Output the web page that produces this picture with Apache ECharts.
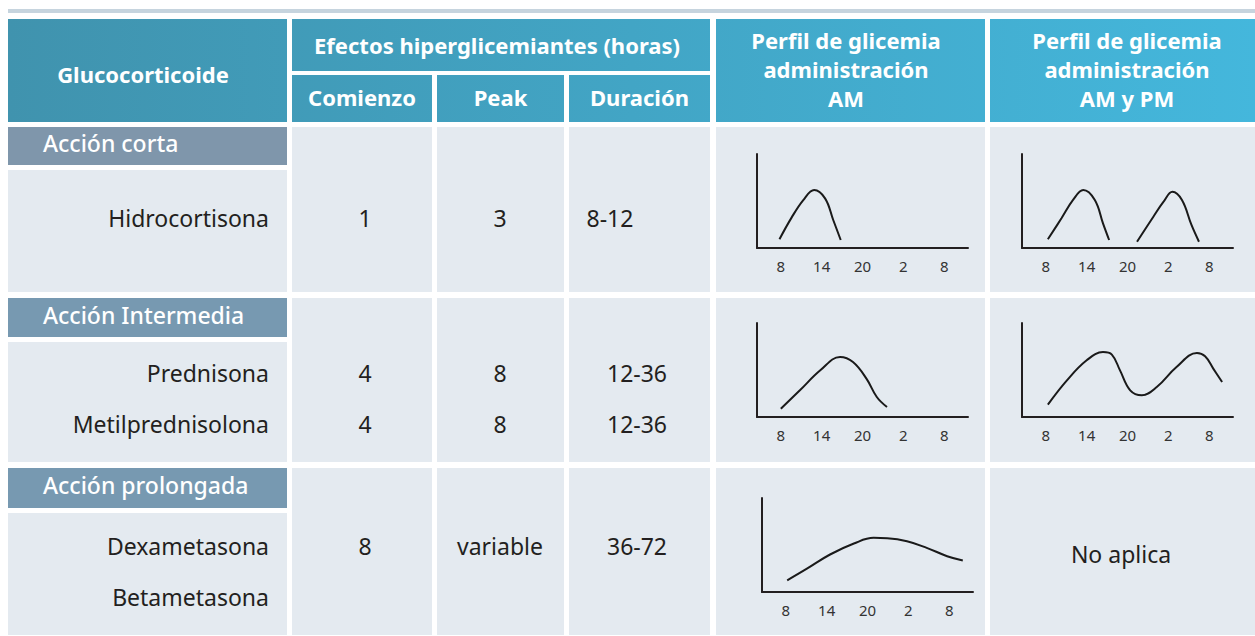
<!DOCTYPE html>
<html><head><meta charset="utf-8">
<script src="https://cdn.jsdelivr.net/npm/echarts@6/dist/echarts.min.js"></script>
<style>html,body{margin:0;padding:0;background:#fff}#c{width:1255px;height:636px}</style>
</head><body><div id="c"></div>
<script>
// ---- data ----
const tickHours = [8, 14, 20, 26, 32];
const tickLabels = ['8', '14', '20', '2', '8'];
const headerMain = 'Glucocorticoide';
const headerGroup = 'Efectos hiperglicemiantes (horas)';
const headerSub = ['Comienzo', 'Peak', 'Duración'];
const headerAM = 'Perfil de glicemia\nadministración\nAM';
const headerAMPM = 'Perfil de glicemia\nadministración\nAM y PM';
const groups = ['Acción corta', 'Acción Intermedia', 'Acción prolongada'];
const drugs = [['Hidrocortisona'], ['Prednisona', 'Metilprednisolona'], ['Dexametasona', 'Betametasona']];
const comienzo = [['1'], ['4', '4'], ['8']];
const peak = [['3'], ['8', '8'], ['variable']];
const duracion = [['8-12'], ['12-36', '12-36'], ['36-72']];
const noAplica = 'No aplica';
// curves: [hour, relative glycemia 0-100]
const cortaAM = [[7.8, 9.3], [9.6, 32.6], [11.3, 51], [12.9, 61.7], [14.5, 52.8], [15.7, 29.8], [16.8, 8.5]];
const cortaAMPM1 = [[8.3, 9.3], [10.3, 31.6], [12.0, 51.1], [13.5, 61.7], [15.2, 51.1], [16.4, 26.2], [17.3, 8.5]];
const cortaAMPM2 = [[21.4, 6.7], [23.8, 33.3], [25.3, 49.3], [26.6, 59.9], [28.0, 51.1], [29.4, 24.5], [30.5, 6.7]];
const intermediaAM = [[8.0, 8.8], [10.8, 28.4], [13.8, 49.7], [16.7, 63.8], [18.6, 58.5], [20.6, 40.6], [22.1, 21.3], [23.6, 10.6]];
const intermediaAMPM = [[8.3, 13.2], [11.1, 39.0], [14.0, 60.3], [16.4, 69.1], [17.7, 66.4], [18.9, 49.6], [20.4, 28.4], [22.1, 23.1], [24.3, 31.9], [27.2, 53.2], [30.2, 68.1], [31.4, 64.6], [32.6, 51.5], [33.9, 37.2]];
const prolongadaAM = [[8.2, 12.4], [11.1, 24.8], [14.5, 39.9], [18.0, 51.6], [20.9, 57.6], [22.9, 57.2], [25.8, 54.0], [28.7, 47.0], [31.7, 38.1], [34.0, 33.6]];

// ---- layout ----
const FONT = '"Noto Sans", "Open Sans", sans-serif';
const DARK = '#231f20';
const LIGHT = '#e4eaf0';
const headGrad = {type: 'linear', x: 8, y: 0, x2: 1255, y2: 0, global: true,
  colorStops: [{offset: 0, color: '#4093ae'}, {offset: 1, color: '#44b7dc'}]};

const cols = [[8, 287], [292, 432], [437, 564], [569, 710], [716, 985], [990, 1255]];
const rows = [
  {bar: [127, 165], light: [170, 292], lines: [218], durX: 610},
  {bar: [298, 337], light: [342, 462], lines: [373, 424], durX: 637},
  {bar: [468, 508], light: [513, 635], lines: [546, 597], durX: 637}
];
const barColors = ['#7f96ab', '#7799b1', '#7799b1'];

const els = [];
function rect(x1, y1, x2, y2, fill) {
  els.push({type: 'rect', z: -10, shape: {x: x1, y: y1, width: x2 - x1, height: y2 - y1}, style: {fill: fill}});
}
function text(t, x, y, opt) {
  els.push({type: 'text', z: 10, x: x, y: y, style: Object.assign({
    text: t, fill: DARK, fontFamily: FONT, fontSize: 23, fontWeight: 'normal',
    align: 'center', verticalAlign: 'middle'}, opt || {})});
}
// top strip
rect(8, 9, 1255, 13, '#c6d4de');
// header
rect(8, 19, 287, 122, headGrad);
rect(292, 19, 710, 71, headGrad);
rect(292, 75, 432, 122, headGrad);
rect(437, 75, 564, 122, headGrad);
rect(569, 75, 710, 122, headGrad);
rect(716, 19, 985, 122, headGrad);
rect(990, 19, 1255, 122, headGrad);
const hopt = {fill: '#ffffff', fontWeight: 'bold', fontSize: 22, lineHeight: 29};
text(headerMain, 143, 74, hopt);
text(headerGroup, 497, 45, hopt);
headerSub.forEach((s, i) => text(s, (cols[i + 1][0] + cols[i + 1][1]) / 2, 97, hopt));
text(headerAM, 846, 69, hopt);
text(headerAMPM, 1127, 69, hopt);
// body
rows.forEach((r, gi) => {
  rect(8, r.bar[0], 287, r.bar[1], barColors[gi]);
  rect(8, r.light[0], 287, r.light[1], LIGHT);
  for (let c = 1; c < cols.length; c++) rect(cols[c][0], r.bar[0], cols[c][1], r.light[1], LIGHT);
  text(groups[gi], 43, (r.bar[0] + r.bar[1]) / 2 - 3, {fill: '#ffffff', align: 'left', fontSize: 23, fontWeight: 500});
  drugs[gi].forEach((d, k) => text(d, 269, r.lines[k], {align: 'right'}));
  comienzo[gi].forEach((d, k) => text(d, 365, r.lines[k]));
  peak[gi].forEach((d, k) => text(d, 500, r.lines[k]));
  duracion[gi].forEach((d, k) => text(d, r.durX, r.lines[k]));
});
text(noAplica, 1121, 554);

// ---- mini charts ----
const grids = [
  {left: 757, top: 154, width: 211, height: 94},
  {left: 1022, top: 154, width: 211, height: 94},
  {left: 757, top: 323, width: 211, height: 94},
  {left: 1022, top: 323, width: 211, height: 94},
  {left: 762, top: 498, width: 211, height: 94}
];
const curves = [[cortaAM], [cortaAMPM1, cortaAMPM2], [intermediaAM], [intermediaAMPM], [prolongadaAM]];
const axisLine = {show: true, lineStyle: {color: DARK, width: 2}};
const xAxis = grids.map((g, i) => ({
  type: 'value', gridIndex: i, min: 4.5, max: 35.5,
  axisLine: axisLine, axisTick: {show: false}, splitLine: {show: false},
  axisLabel: {customValues: tickHours, margin: 10, color: '#333', fontSize: 15, fontFamily: FONT,
    formatter: v => tickLabels[tickHours.indexOf(v)] ?? ''}
}));
const yAxis = grids.map((g, i) => ({
  type: 'value', gridIndex: i, min: 0, max: 100,
  axisLine: axisLine, axisTick: {show: false}, splitLine: {show: false}, axisLabel: {show: false}
}));
const series = [];
curves.forEach((list, i) => list.forEach(d => series.push({
  type: 'line', xAxisIndex: i, yAxisIndex: i, data: d, smooth: 0.4, showSymbol: false,
  silent: true, lineStyle: {color: '#1a1a1a', width: 2}
})));

const chart = echarts.init(document.getElementById('c'), null, {renderer: 'svg'});
chart.setOption({
  animation: false,
  backgroundColor: '#ffffff',
  grid: grids.map(g => Object.assign({containLabel: false}, g)),
  xAxis: xAxis, yAxis: yAxis, series: series,
  graphic: {elements: els}
});
</script></body></html>
